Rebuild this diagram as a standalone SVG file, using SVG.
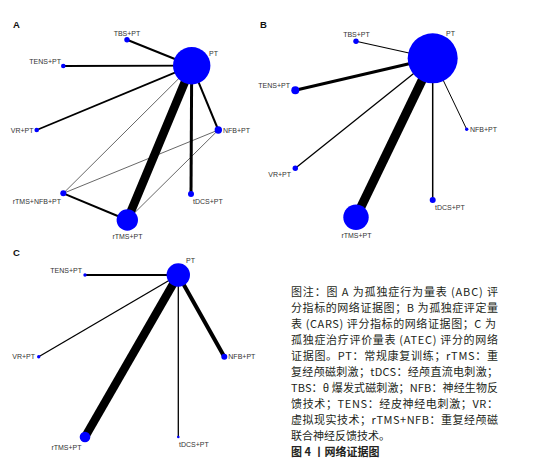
<svg xmlns="http://www.w3.org/2000/svg" width="544" height="467" viewBox="0 0 544 467">
<style>
.e{stroke:#000;fill:none;stroke-linecap:butt}
.n{fill:#0000ff}
.l{font-family:"Liberation Sans",Arial,sans-serif;font-size:7px;fill:#333}
.p{font-family:"Liberation Sans",Arial,sans-serif;font-size:9.5px;font-weight:bold;fill:#111}
.t{font-family:"Noto Sans CJK SC","Noto Sans",sans-serif;font-size:11px;fill:#231f20}
.b{font-weight:bold}
</style>
<rect width="544" height="467" fill="#fff"/>
<text class="p" x="13" y="27.5">A</text>
<text class="p" x="260" y="27.5">B</text>
<text class="p" x="13" y="256">C</text>
<g id="connectors">
<!-- A -->
<line class="e" x1="191.7" y1="65.7" x2="127" y2="39.7" stroke-width="2"/>
<line class="e" x1="191.7" y1="65.7" x2="63.3" y2="66" stroke-width="1.8"/>
<line class="e" x1="191.7" y1="65.7" x2="36.7" y2="130" stroke-width="1.8"/>
<line class="e" x1="191.7" y1="65.7" x2="218.3" y2="130" stroke-width="2"/>
<line class="e" x1="191.7" y1="65.7" x2="191" y2="194" stroke-width="3"/>
<line class="e" x1="191.7" y1="65.7" x2="127.3" y2="220" stroke-width="8.5"/>
<line class="e" x1="191.7" y1="65.7" x2="63.3" y2="193.3" stroke-width="0.6"/>
<line class="e" x1="218.3" y1="130" x2="63.3" y2="193.3" stroke-width="0.6"/>
<line class="e" x1="218.3" y1="130" x2="127.3" y2="220" stroke-width="0.6"/>
<line class="e" x1="63.3" y1="193.3" x2="127.3" y2="220" stroke-width="2"/>
<!-- B -->
<line class="e" x1="432.7" y1="58.3" x2="356" y2="41.3" stroke-width="1.1"/>
<line class="e" x1="432.7" y1="58.3" x2="295.3" y2="90.3" stroke-width="3"/>
<line class="e" x1="432.7" y1="58.3" x2="295.3" y2="168.3" stroke-width="1.3"/>
<line class="e" x1="432.7" y1="58.3" x2="466.7" y2="129.3" stroke-width="1"/>
<line class="e" x1="432.7" y1="58.3" x2="432.7" y2="200" stroke-width="1.5"/>
<line class="e" x1="432.7" y1="58.3" x2="356" y2="217.3" stroke-width="9"/>
<!-- C -->
<line class="e" x1="178.3" y1="275" x2="85" y2="275" stroke-width="2"/>
<line class="e" x1="178.3" y1="275" x2="38.7" y2="356.7" stroke-width="1.3"/>
<line class="e" x1="178.3" y1="275" x2="224.3" y2="356.7" stroke-width="4"/>
<line class="e" x1="178.3" y1="275" x2="178.3" y2="437" stroke-width="1.3"/>
<line class="e" x1="178.3" y1="275" x2="85" y2="437" stroke-width="8.5"/>
</g>
<g id="A-PT"><circle class="n" cx="191.7" cy="65.7" r="18.7"/><text class="l" x="209" y="56">PT</text></g>
<g id="A-TBS"><circle class="n" cx="127" cy="39.7" r="2.7"/><text class="l" x="127" y="36" text-anchor="middle">TBS+PT</text></g>
<g id="A-TENS"><circle class="n" cx="63.3" cy="66" r="2.3"/><text class="l" x="61" y="64" text-anchor="end">TENS+PT</text></g>
<g id="A-VR"><circle class="n" cx="36.7" cy="130" r="2.3"/><text class="l" x="33.5" y="132.5" text-anchor="end">VR+PT</text></g>
<g id="A-NFB"><circle class="n" cx="218.3" cy="130" r="3.7"/><text class="l" x="223" y="132.5">NFB+PT</text></g>
<g id="A-rTMSNFB"><circle class="n" cx="63.3" cy="193.3" r="3"/><text class="l" x="61" y="204" text-anchor="end">rTMS+NFB+PT</text></g>
<g id="A-tDCS"><circle class="n" cx="191" cy="194" r="3"/><text class="l" x="193" y="204">tDCS+PT</text></g>
<g id="A-rTMS"><circle class="n" cx="127.3" cy="220" r="10.7"/><text class="l" x="127.5" y="238.5" text-anchor="middle">rTMS+PT</text></g>
<g id="B-PT"><circle class="n" cx="432.7" cy="58.3" r="25"/><text class="l" x="446" y="36">PT</text></g>
<g id="B-TBS"><circle class="n" cx="356" cy="41.3" r="2.7"/><text class="l" x="356.5" y="36.5" text-anchor="middle">TBS+PT</text></g>
<g id="B-TENS"><circle class="n" cx="295.3" cy="90.3" r="4"/><text class="l" x="290" y="88" text-anchor="end">TENS+PT</text></g>
<g id="B-VR"><circle class="n" cx="295.3" cy="168.3" r="2.7"/><text class="l" x="291" y="177" text-anchor="end">VR+PT</text></g>
<g id="B-NFB"><circle class="n" cx="466.7" cy="129.3" r="1.7"/><text class="l" x="470" y="132">NFB+PT</text></g>
<g id="B-tDCS"><circle class="n" cx="432.7" cy="200" r="3"/><text class="l" x="435" y="210">tDCS+PT</text></g>
<g id="B-rTMS"><circle class="n" cx="356" cy="217.3" r="12.7"/><text class="l" x="356.5" y="238" text-anchor="middle">rTMS+PT</text></g>
<g id="C-PT"><circle class="n" cx="178.3" cy="275" r="11.7"/><text class="l" x="186" y="263">PT</text></g>
<g id="C-TENS"><circle class="n" cx="85" cy="275" r="1.7"/><text class="l" x="82" y="273" text-anchor="end">TENS+PT</text></g>
<g id="C-VR"><circle class="n" cx="38.7" cy="356.7" r="1.7"/><text class="l" x="35" y="359" text-anchor="end">VR+PT</text></g>
<g id="C-NFB"><circle class="n" cx="224.3" cy="356.7" r="3"/><text class="l" x="228.3" y="359">NFB+PT</text></g>
<g id="C-tDCS"><circle class="n" cx="178.3" cy="437" r="1.3"/><text class="l" x="179" y="446.5">tDCS+PT</text></g>
<g id="C-rTMS"><circle class="n" cx="85" cy="437" r="5.3"/><text class="l" x="66.5" y="450" text-anchor="middle">rTMS+PT</text></g>
<g id="caption">
<text class="t" x="291" y="295.5" textLength="207" lengthAdjust="spacing">图注：图 A 为孤独症行为量表 (ABC) 评</text>
<text class="t" x="291" y="311.5" textLength="207" lengthAdjust="spacing">分指标的网络证据图；B 为孤独症评定量</text>
<text class="t" x="291" y="327.5" textLength="205" lengthAdjust="spacing">表 (CARS) 评分指标的网络证据图；C 为</text>
<text class="t" x="291" y="343.5" textLength="207" lengthAdjust="spacing">孤独症治疗评价量表 (ATEC) 评分的网络</text>
<text class="t" x="291" y="359.5" textLength="207" lengthAdjust="spacing">证据图。PT：常规康复训练；rTMS：重</text>
<text class="t" x="291" y="375.5" textLength="207" lengthAdjust="spacing">复经颅磁刺激；tDCS：经颅直流电刺激；</text>
<text class="t" x="291" y="391.5" textLength="207" lengthAdjust="spacing">TBS：θ 爆发式磁刺激；NFB：神经生物反</text>
<text class="t" x="291" y="407.5" textLength="207" lengthAdjust="spacing">馈技术；TENS：经皮神经电刺激；VR：</text>
<text class="t" x="291" y="423.5" textLength="207" lengthAdjust="spacing">虚拟现实技术；rTMS+NFB：重复经颅磁</text>
<text class="t" x="291" y="439.5">联合神经反馈技术。</text>
<text class="t b" x="291" y="455.5">图 4 丨网络证据图</text>
</g>
</svg>
